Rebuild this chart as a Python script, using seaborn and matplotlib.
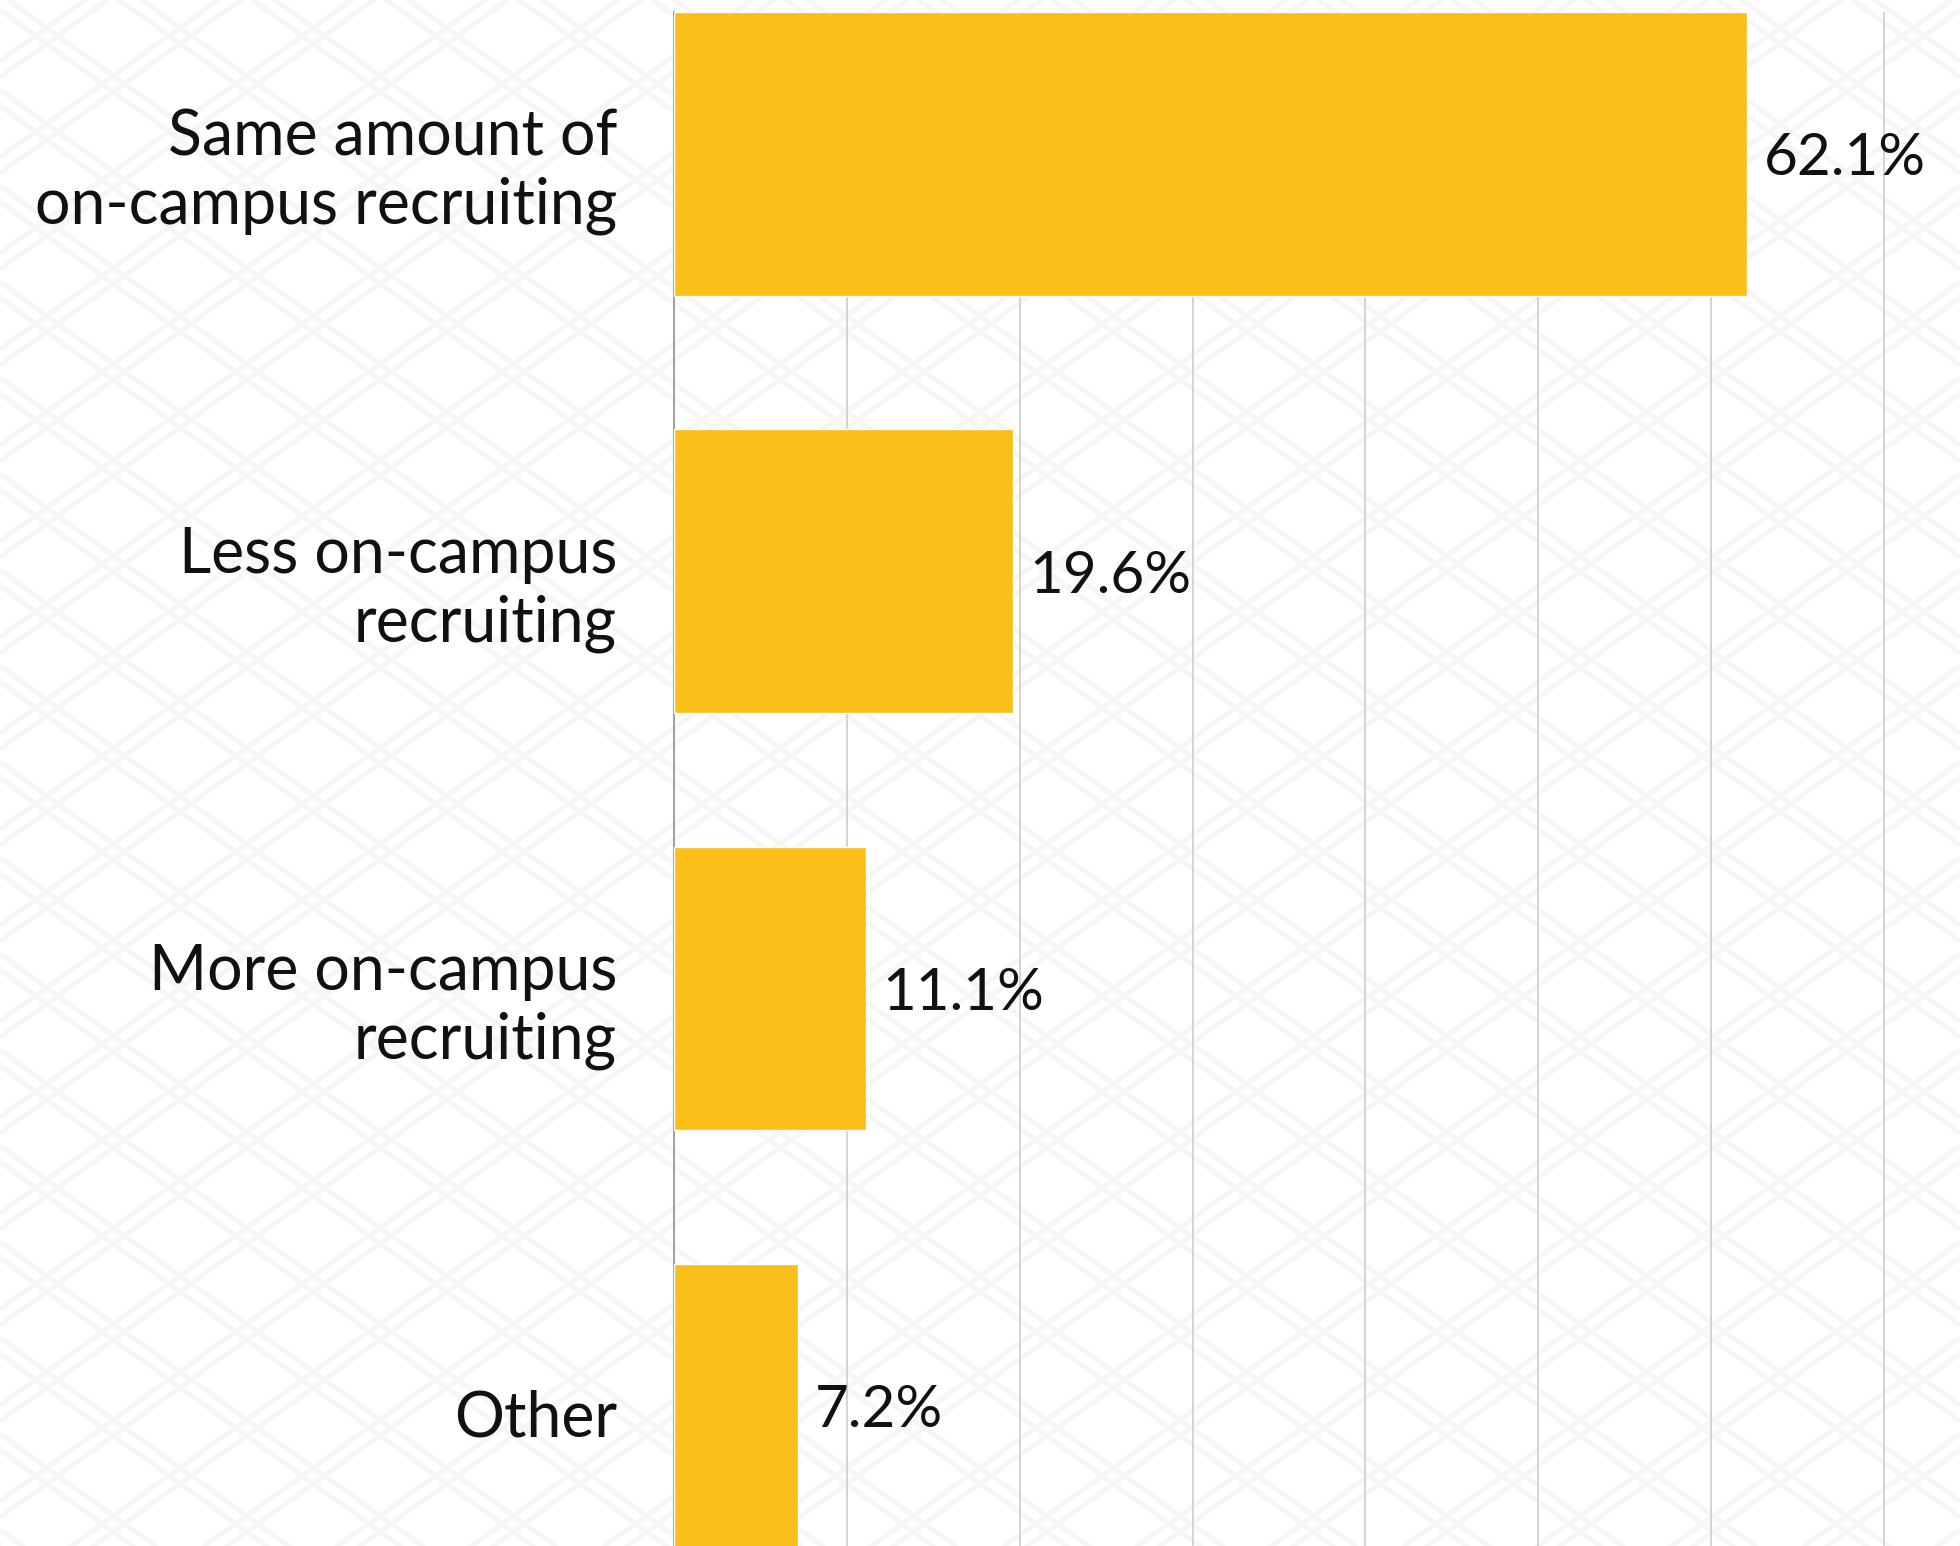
import numpy as np
import pandas as pd
import matplotlib
matplotlib.use("Agg")
import matplotlib.pyplot as plt
import matplotlib.transforms as mtransforms
import seaborn as sns

categories = [
    "Same amount of\non-campus recruiting",
    "Less on-campus\nrecruiting",
    "More on-campus\nrecruiting",
    "Other",
]
shares = [62.1, 19.6, 11.1, 7.2]
value_labels = ["62.1%", "19.6%", "11.1%", "7.2%"]

df = pd.DataFrame({"category": categories, "share": shares})

sns.set_theme(style="white")
plt.rcParams["font.family"] = ["Lato", "DejaVu Sans"]

W, H, DPI = 1960, 1546, 100
fig = plt.figure(figsize=(W / DPI, H / DPI), dpi=DPI)
fig.patch.set_facecolor("white")

# faint lattice texture behind everything
bg = fig.add_axes([0, 0, 1, 1], zorder=-5)
bg.set_xlim(0, W)
bg.set_ylim(0, H)
bg.axis("off")
slope = 0.72
step = 96
xs = np.array([0, W])
tex = "#f7f6f4"
for c in np.arange(-slope * W - step, H + step, step):
    for off in (0, 16):
        bg.plot(xs, c + off + slope * xs, color=tex, lw=3.5, solid_capstyle="butt")
for c in np.arange(-step, H + slope * W + step, step):
    for off in (0, 16):
        bg.plot(xs, c + off - slope * xs, color=tex, lw=3.5, solid_capstyle="butt")

ax = fig.add_axes([674 / W, 0, 1 - 674 / W, (H - 12) / H])
ax.set_facecolor("none")

sns.barplot(data=df, y="category", x="share", orient="h", color="#F9BE17",
            width=0.68, saturation=1, ax=ax, zorder=3)

ax.set_xlim(0, 74.4)
ax.set_ylim(3.336, -0.34)
ax.set_xticks(np.arange(10, 71, 10))
ax.xaxis.grid(True, color="#d3d3d3", lw=1.4, zorder=0)
ax.yaxis.grid(False)
ax.tick_params(axis="x", bottom=False, labelbottom=False)
ax.tick_params(axis="y", left=False, pad=35, labelsize=45, labelcolor="#111111")
shift_down = mtransforms.ScaledTranslation(0, -0.07, fig.dpi_scale_trans)
for lab in ax.get_yticklabels():
    lab.set_linespacing(1.22)
    lab.set_transform(lab.get_transform() + shift_down)
ax.set_xlabel("")
ax.set_ylabel("")
for side in ("top", "right", "bottom"):
    ax.spines[side].set_visible(False)
ax.spines["left"].set_color("#a0a0a0")
ax.spines["left"].set_linewidth(1.4)

for i, (v, t) in enumerate(zip(shares, value_labels)):
    ax.annotate(t, xy=(v, i), xytext=(16, -5), textcoords="offset pixels",
                ha="left", va="center", fontsize=42, color="#111111", zorder=4)

fig.savefig("out.png", dpi=DPI)
